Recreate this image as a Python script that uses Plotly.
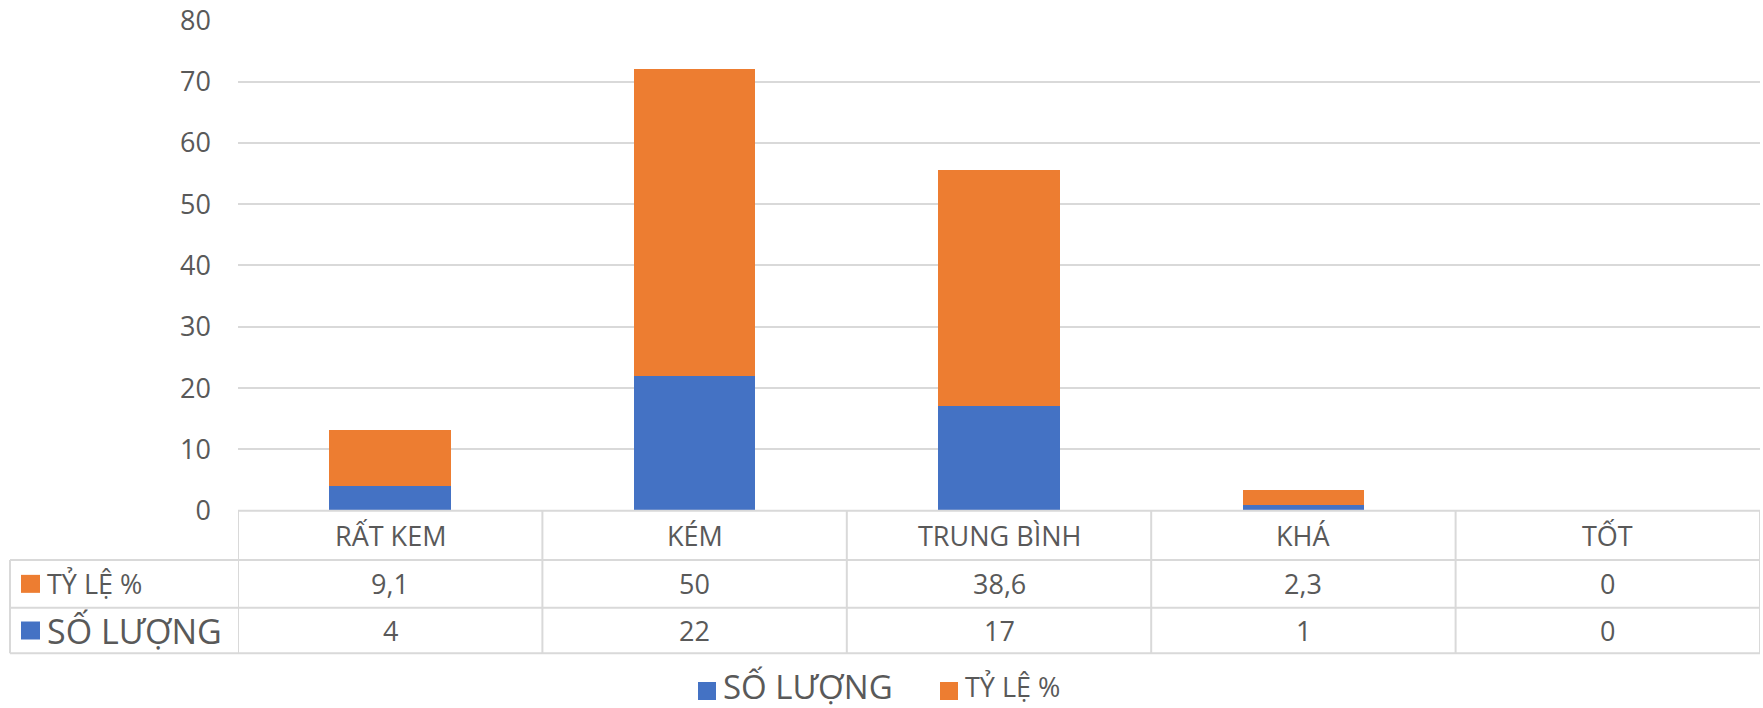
import plotly.graph_objects as go

# Data
categories = ["RẤT KEM", "KÉM", "TRUNG BÌNH", "KHÁ", "TỐT"]
so_luong = [4, 22, 17, 1, 0]
ty_le = [9.1, 50, 38.6, 2.3, 0]
series_names = ["SỐ LƯỢNG", "TỶ LỆ %"]
y_ticks = [0, 10, 20, 30, 40, 50, 60, 70, 80]

W, H = 1763, 708
BLUE = "#4472C4"
ORANGE = "#ED7D31"
TEXT = "#595959"
LINE = "#D9D9D9"
FONT = "Open Sans"


def px_x(x):
    return x / W


def px_y(y):
    return 1 - y / H


def fmt(v):
    # Vietnamese decimal comma
    if float(v).is_integer():
        return str(int(v))
    return str(v).replace(".", ",")


fig = go.Figure()
fig.add_trace(go.Bar(x=list(range(len(categories))), y=so_luong, name=series_names[0],
                     marker=dict(color=BLUE, line=dict(width=0))))
fig.add_trace(go.Bar(x=list(range(len(categories))), y=ty_le, name=series_names[1],
                     marker=dict(color=ORANGE, line=dict(width=0))))

# Plot area geometry (pixels)
plot_left, plot_right = 238, 1760
plot_top, plot_bottom = 20.2, 510.7
row_lines = [510.7, 560, 607.7, 653.3]
label_left = 10

fig.update_layout(
    width=W, height=H, autosize=False,
    margin=dict(l=0, r=0, t=0, b=0, pad=0, autoexpand=False),
    paper_bgcolor="white", plot_bgcolor="white",
    barmode="stack", bargap=0.6,
    showlegend=False,
    font=dict(family=FONT, color=TEXT, size=27),
    xaxis=dict(domain=[px_x(plot_left), px_x(plot_right)], range=[-0.5, len(categories) - 0.5],
               showticklabels=False, showgrid=False, zeroline=False, showline=False,
               automargin=False, fixedrange=True),
    yaxis=dict(domain=[px_y(plot_bottom), px_y(plot_top)], range=[0, 80],
               tickvals=y_ticks, ticktext=[str(t) for t in y_ticks],
               showgrid=True, gridcolor=LINE, gridwidth=1.5, zeroline=False,
               showline=False, ticks="", ticklabelstandoff=26, automargin=False,
               tickfont=dict(family=FONT, size=27, color=TEXT), fixedrange=True),
)

shapes = []
annotations = []


def hline(y, x0, x1):
    return dict(type="line", xref="paper", yref="paper", x0=px_x(x0), x1=px_x(x1),
                y0=px_y(y), y1=px_y(y), line=dict(color=LINE, width=2))


# Data table: horizontal rules
shapes.append(hline(row_lines[0], plot_left, plot_right))
for y in row_lines[1:]:
    shapes.append(hline(y, label_left, plot_right))

# Vertical rules at category boundaries
for i in range(len(categories) + 1):
    shapes.append(dict(type="line", xref="x", yref="paper", x0=i - 0.5, x1=i - 0.5,
                       y0=px_y(row_lines[0]), y1=px_y(row_lines[-1]),
                       line=dict(color=LINE, width=2)))
# Left edge of the row-label column
shapes.append(dict(type="line", xref="paper", yref="paper", x0=px_x(label_left), x1=px_x(label_left),
                   y0=px_y(row_lines[1]), y1=px_y(row_lines[-1]), line=dict(color=LINE, width=2)))

row_mid = [(row_lines[k] + row_lines[k + 1]) / 2 for k in range(3)]

# Header row: category names
for i, c in enumerate(categories):
    annotations.append(dict(x=i, y=px_y(row_mid[0]), xref="x", yref="paper", text=c,
                            showarrow=False, xanchor="center", yanchor="middle",
                            font=dict(family=FONT, size=27, color=TEXT)))

# Value rows (TỶ LỆ % on top, SỐ LƯỢNG below)
table_rows = [(series_names[1], ty_le, ORANGE, 27), (series_names[0], so_luong, BLUE, 34)]
for k, (name, vals, color, lsize) in enumerate(table_rows):
    ym = row_mid[k + 1]
    for i, v in enumerate(vals):
        annotations.append(dict(x=i, y=px_y(ym), xref="x", yref="paper", text=fmt(v),
                                showarrow=False, xanchor="center", yanchor="middle",
                                font=dict(family=FONT, size=27, color=TEXT)))
    shapes.append(dict(type="rect", xref="paper", yref="paper", x0=px_x(21), x1=px_x(40),
                       y0=px_y(ym - 9), y1=px_y(ym + 9), fillcolor=color, line=dict(width=0)))
    annotations.append(dict(x=px_x(45), y=px_y(ym), xref="paper", yref="paper", text=name,
                            showarrow=False, xanchor="left", yanchor="middle",
                            font=dict(family=FONT, size=lsize, color=TEXT)))

# Legend below the table
leg_square_y = 691
leg_text_y = 686
legend_items = [(series_names[0], BLUE, 698, 33), (series_names[1], ORANGE, 940, 27)]
for name, color, x0, size in legend_items:
    shapes.append(dict(type="rect", xref="paper", yref="paper", x0=px_x(x0), x1=px_x(x0 + 18),
                       y0=px_y(leg_square_y - 9), y1=px_y(leg_square_y + 9),
                       fillcolor=color, line=dict(width=0)))
    annotations.append(dict(x=px_x(x0 + 23), y=px_y(leg_text_y), xref="paper", yref="paper",
                            text=name, showarrow=False, xanchor="left", yanchor="middle",
                            font=dict(family=FONT, size=size, color=TEXT)))

fig.update_layout(shapes=shapes, annotations=annotations)
fig.write_html("out.html")
